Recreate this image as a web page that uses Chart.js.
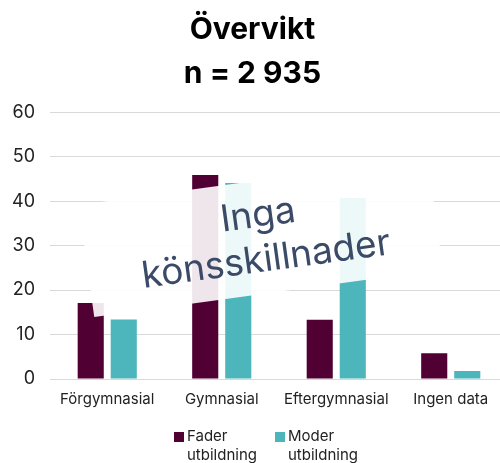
<!DOCTYPE html>
<html>
<head>
<meta charset="utf-8">
<script src="https://cdn.jsdelivr.net/npm/chart.js@4/dist/chart.umd.min.js"></script>
<style>
  body { margin: 0; overflow: hidden; background: #fff; font-family: Inter, 'Noto Sans', sans-serif; }
  #wrap { position: relative; width: 508px; height: 463px; }
  .legend { position: absolute; top: 426px; font-size: 15px; line-height: 19px; color: #222; }
  .legend span { position: absolute; left: 0; top: 6px; width: 10px; height: 10px; }
  .legend div { margin-left: 13px; }
</style>
</head>
<body>
<div id="wrap">
  <canvas id="chart" width="508" height="463"></canvas>
  <div class="legend" style="left:174px"><span style="background:#510033"></span><div>Fader<br>utbildning</div></div>
  <div class="legend" style="left:275px"><span style="background:#4cb6bc"></span><div>Moder<br>utbildning</div></div>
</div>
<script>
const categories = ['Förgymnasial', 'Gymnasial', 'Eftergymnasial', 'Ingen data'];
const faderValues = [17.1, 45.9, 13.3, 5.8];
const moderValues = [13.4, 44.1, 40.7, 1.8];
const titleLines = ['Övervikt', 'n = 2 935'];
const noteLines = ['Inga', 'könsskillnader'];

const fontFamily = "Inter, 'Noto Sans', sans-serif";

// white band + text laid over the bars, placed in data coords
const notePlugin = {
  id: 'note',
  afterDatasetsDraw(chart) {
    const { ctx, scales } = chart;
    const cx = scales.x.getPixelForValue(1.343);
    const cy = scales.y.getPixelForValue(31.8);
    ctx.save();
    ctx.translate(cx, cy);
    ctx.rotate(-7.8 * Math.PI / 180);
    ctx.fillStyle = 'rgba(255,255,255,0.9)';
    ctx.fillRect(-176, -57, 352, 113);
    ctx.fillStyle = '#3b4a66';
    ctx.font = '37px ' + fontFamily;
    ctx.textAlign = 'center';
    ctx.textBaseline = 'alphabetic';
    ctx.fillText(noteLines[0], 0, -11);
    ctx.fillText(noteLines[1], 2, 34);
    ctx.restore();
  }
};

new Chart(document.getElementById('chart'), {
  type: 'bar',
  data: {
    labels: categories,
    datasets: [
      { label: 'Fader utbildning', data: faderValues, backgroundColor: '#510033' },
      { label: 'Moder utbildning', data: moderValues, backgroundColor: '#4cb6bc' }
    ]
  },
  options: {
    responsive: false,
    devicePixelRatio: 1,
    animation: false,
    categoryPercentage: 0.577,
    barPercentage: 0.79,
    layout: { padding: { left: -3, right: 0, top: 8, bottom: 52 } },
    plugins: {
      legend: { display: false },
      tooltip: { enabled: false },
      title: {
        display: true,
        text: titleLines,
        color: '#000',
        font: { family: fontFamily, size: 30, weight: 'bold', lineHeight: 1.47 },
        padding: { top: 0, bottom: 16 }
      }
    },
    scales: {
      y: {
        min: 0,
        max: 60,
        ticks: { stepSize: 10, color: '#222', font: { family: fontFamily, size: 18 }, padding: 15 },
        grid: { color: '#d9d9d9', drawTicks: false },
        border: { display: false }
      },
      x: {
        ticks: { color: '#222', font: { family: fontFamily, size: 15 }, padding: 3 },
        grid: { display: false },
        border: { display: false }
      }
    }
  },
  plugins: [notePlugin]
});
</script>
</body>
</html>
